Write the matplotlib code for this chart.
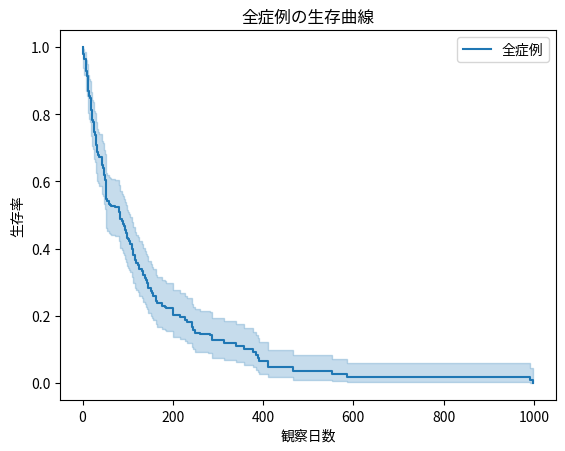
import matplotlib
matplotlib.use("Agg")
import matplotlib.pyplot as plt

plt.rcParams['font.family'] = ['Noto Sans CJK JP', 'DejaVu Sans']

# Kaplan-Meier steps (time, survival, 95% CI)
times = [0, 1, 2, 3, 4, 7, 8, 10, 11, 12, 13, 15, 16, 18, 19, 20, 21, 22,
         24, 25, 27, 29, 30, 31, 33, 35, 36, 42, 43, 44, 45, 48, 49, 51, 52,
         53, 54, 59, 61, 63, 72, 80, 82, 84, 87, 90, 92, 95, 97, 99, 100,
         103, 105, 110, 111, 112, 117, 118, 122, 123, 124, 126, 132, 133,
         135, 139, 140, 143, 144, 151, 153, 156, 162, 164, 177, 182, 186,
         200, 201, 216, 228, 231, 242, 245, 250, 260, 278, 283, 287, 314,
         340, 357, 378, 384, 389, 392, 411, 467, 553, 587, 991, 999]
surv = [1.0, 0.986, 0.979, 0.971, 0.964, 0.950, 0.928, 0.914, 0.899, 0.885,
        0.870, 0.855, 0.848, 0.826, 0.811, 0.797, 0.789, 0.782, 0.775,
        0.746, 0.738, 0.724, 0.709, 0.693, 0.686, 0.678, 0.671, 0.663,
        0.656, 0.648, 0.640, 0.618, 0.605, 0.562, 0.555, 0.547, 0.540,
        0.533, 0.530, 0.526, 0.524, 0.509, 0.502, 0.489, 0.481, 0.474,
        0.466, 0.455, 0.447, 0.432, 0.428, 0.421, 0.413, 0.398, 0.390,
        0.381, 0.366, 0.358, 0.356, 0.352, 0.348, 0.340, 0.333, 0.326,
        0.321, 0.313, 0.305, 0.298, 0.283, 0.275, 0.268, 0.260, 0.245,
        0.238, 0.230, 0.227, 0.223, 0.215, 0.202, 0.195, 0.188, 0.180,
        0.166, 0.158, 0.150, 0.147, 0.145, 0.143, 0.128, 0.119, 0.110,
        0.101, 0.092, 0.083, 0.074, 0.065, 0.048, 0.036, 0.027, 0.018,
        0.009, 0.0]
lower = [1.0, 0.945, 0.937, 0.926, 0.915, 0.897, 0.870, 0.853, 0.836, 0.819,
         0.802, 0.785, 0.777, 0.752, 0.736, 0.720, 0.712, 0.704, 0.696,
         0.665, 0.657, 0.642, 0.626, 0.609, 0.602, 0.594, 0.586, 0.578,
         0.571, 0.563, 0.555, 0.532, 0.519, 0.475, 0.468, 0.460, 0.453,
         0.446, 0.443, 0.439, 0.437, 0.422, 0.415, 0.402, 0.395, 0.388,
         0.380, 0.369, 0.361, 0.347, 0.343, 0.336, 0.329, 0.314, 0.307,
         0.298, 0.284, 0.277, 0.275, 0.271, 0.267, 0.260, 0.253, 0.247,
         0.242, 0.235, 0.227, 0.221, 0.207, 0.200, 0.194, 0.187, 0.174,
         0.168, 0.161, 0.158, 0.155, 0.148, 0.137, 0.131, 0.125, 0.118,
         0.106, 0.100, 0.093, 0.091, 0.089, 0.088, 0.075, 0.068, 0.061,
         0.054, 0.047, 0.040, 0.034, 0.028, 0.017, 0.010, 0.006, 0.004,
         0.001, 0.001]
upper = [1.0, 0.996, 0.993, 0.989, 0.985, 0.976, 0.960, 0.950, 0.939, 0.928,
         0.916, 0.904, 0.898, 0.879, 0.867, 0.854, 0.847, 0.841, 0.835,
         0.809, 0.802, 0.789, 0.776, 0.762, 0.755, 0.748, 0.741, 0.734,
         0.727, 0.720, 0.713, 0.692, 0.680, 0.640, 0.633, 0.626, 0.619,
         0.612, 0.609, 0.606, 0.604, 0.590, 0.583, 0.570, 0.563, 0.556,
         0.548, 0.537, 0.529, 0.514, 0.510, 0.503, 0.495, 0.480, 0.472,
         0.463, 0.448, 0.440, 0.438, 0.434, 0.429, 0.421, 0.414, 0.407,
         0.402, 0.393, 0.385, 0.378, 0.362, 0.354, 0.346, 0.338, 0.322,
         0.314, 0.306, 0.303, 0.298, 0.290, 0.276, 0.268, 0.260, 0.252,
         0.236, 0.227, 0.219, 0.215, 0.213, 0.211, 0.194, 0.184, 0.174,
         0.164, 0.153, 0.143, 0.133, 0.122, 0.098, 0.083, 0.070, 0.060,
         0.045, 0.045]

fig = plt.figure(figsize=(5.65, 4.52), dpi=100)
ax = fig.add_axes([0.1062, 0.1133, 0.8778, 0.8181])

ax.fill_between(times, lower, upper, step='post', color='C0', alpha=0.25,
                linewidth=1.0)
ax.step(times, surv, where='post', color='C0', linewidth=1.5, label='全症例')

ax.set_title("全症例の生存曲線")
ax.set_xlabel("観察日数")
ax.set_ylabel("生存率")
ax.legend(loc='upper right')

fig.savefig("out.png", dpi=100)
